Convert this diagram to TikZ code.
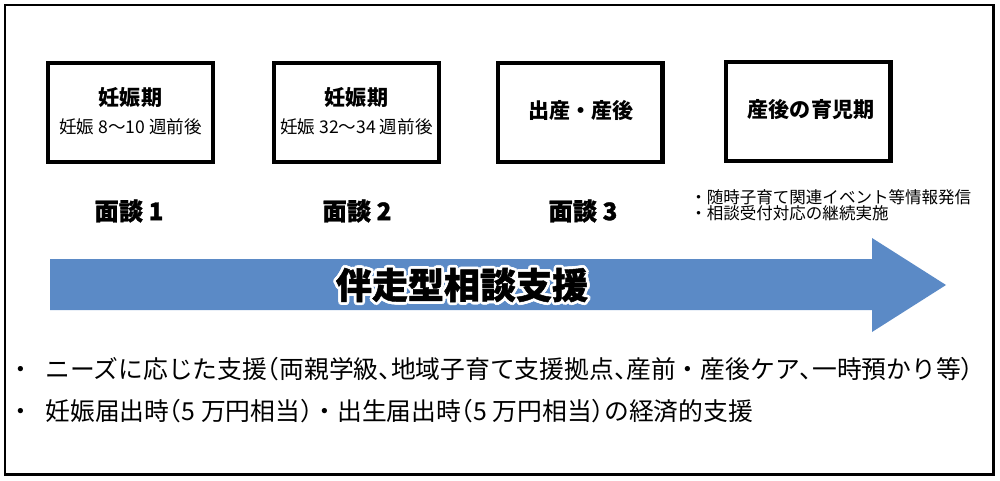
\documentclass[tikz,border=0pt]{standalone}
\usepackage{fontspec}
\setmainfont{Noto Sans CJK JP}
\newfontfamily\heavyfont{Noto Sans CJK JP}[BoldFeatures={FakeBold=1.2}]
\usetikzlibrary{positioning}
\definecolor{flowblue}{RGB}{91,138,198}

% half-width punctuation
\newcommand{\hcomma}{\makebox[0.5em][l]{、}}
\newcommand{\hopen}{\makebox[0.5em][r]{（}}
\newcommand{\hclose}{\makebox[0.5em][l]{）}}

\tikzset{
    stagebox/.style={draw, line width=2.3pt, minimum width=3.3cm, minimum height=1.98cm, inner sep=0pt},
    stagetitle/.style={inner sep=0pt, font=\bfseries\fontsize{12}{14}\selectfont},
    stagesub/.style={inner sep=0pt, font=\fontsize{10}{12}\selectfont},
    talklabel/.style={inner sep=0pt, font=\heavyfont\bfseries\fontsize{13.8}{16}\selectfont},
    notetext/.style={inner sep=0pt, anchor=west, font=\fontsize{9.4}{11}\selectfont},
    supporttext/.style={inner sep=0pt, anchor=west, font=\fontsize{14.1}{16}\selectfont},
    flowtitle/.style={inner sep=0pt, font=\heavyfont\bfseries\fontsize{20.5}{24}\selectfont},
}

\begin{document}
\begin{tikzpicture}[x=0.02cm, y=-0.02cm]
        \useasboundingbox (0, 0) rectangle (1000, 480);
        % outer frame
        \draw [line width=1.7pt] (5, 5) rectangle (993, 474);

        % stages
        \node[stagebox] (pregA) at (130.5, 112.5) {};
        \node[stagebox] (pregB) at (356.5, 112.5) {};
        \node[stagebox] (birth) at (580, 112.5) {};
        \node[stagebox] (care) at (808, 111.5) {};

        \node[stagetitle] (pregAtitle) at (130.5, 98) {妊娠期};
        \node[stagesub] (pregAsub) at (130.5, 127) {妊娠 8〜10 週前後};
        \node[stagetitle] (pregBtitle) at (356.5, 98) {妊娠期};
        \node[stagesub] (pregBsub) at (356.5, 127) {妊娠 32〜34 週前後};
        \node[stagetitle] (birthtitle) at (581, 110) {出産・産後};
        \node[stagetitle] (caretitle) at (811, 110) {産後の育児期};

        % interviews
        \node[talklabel] (talkA) at (129, 211) {面談 1};
        \node[talklabel] (talkB) at (357, 211) {面談 2};
        \node[talklabel] (talkC) at (583, 211) {面談 3};

        \node[notetext] (noteA) at (690, 197) {・随時子育て関連イベント等情報発信};
        \node[notetext] (noteB) at (690, 213) {・相談受付対応の継続実施};

        % flow arrow
        \fill [flowblue] (50, 259) -- (872, 259) -- (872, 238) -- (946, 285)
            -- (872, 332) -- (872, 310) -- (50, 310) -- cycle;
        % white rim round the title
        \foreach \a in {0, 30, ..., 330}{
            \node[flowtitle, white, xshift={1.6pt*cos(\a)}, yshift={1.6pt*sin(\a)}]
                (flowrim\a) at (462, 285) {伴走型相談支援};
        }
        \node[flowtitle] (flowlabel) at (462, 285) {伴走型相談支援};

        % support lines
        \node[supporttext] (supportA) at (8, 369) {・\hspace{0.5em}ニーズに応じた支援\hopen 両親学級\hcomma 地域子育て支援拠点\hcomma 産前・産後ケア\hcomma 一時預かり等\hclose};
        \node[supporttext] (supportB) at (8, 411) {・\hspace{0.5em}妊娠届出時\hopen 5 万円相当\hclose ・出生届出時\hopen 5 万円相当\hclose の経済的支援};
    \end{tikzpicture}
\end{document}
